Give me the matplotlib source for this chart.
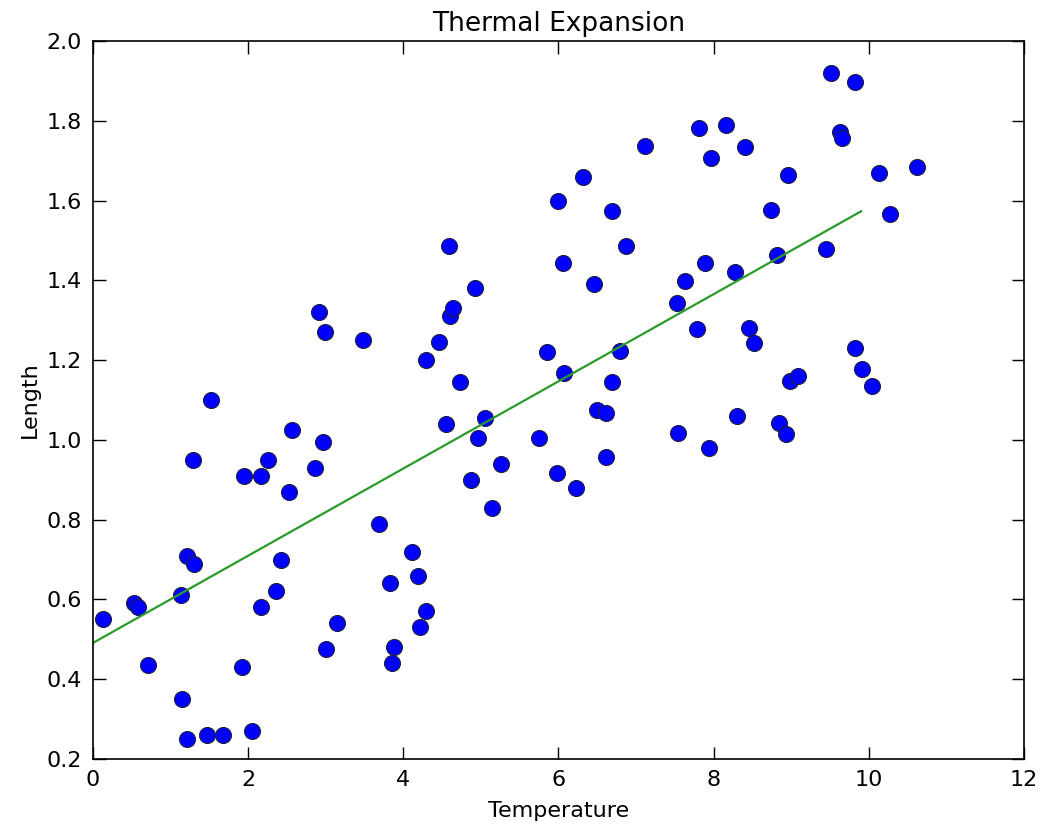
import matplotlib
matplotlib.use('AGG')
import matplotlib.pyplot as plt
import numpy as np

# temperature / length readings
temperature = [0.13, 0.53, 0.58, 0.71, 1.13, 1.15, 1.21, 1.21, 1.30, 1.29,
               1.47, 1.52, 1.68, 1.92, 1.95, 2.05, 2.17, 2.17, 2.26, 2.36,
               2.42, 2.53, 2.57, 2.86, 2.91, 2.96, 2.99, 3.00, 3.15, 3.48,
               3.69, 3.83, 3.86, 3.88, 4.11, 4.19, 4.21, 4.29, 4.29, 4.46,
               4.55, 4.59, 4.60, 4.64, 4.73, 4.87, 4.92, 4.96, 5.05, 5.14,
               5.26, 5.75, 5.85, 5.98, 5.99, 6.06, 6.07, 6.23, 6.32, 6.46,
               6.50, 6.61, 6.61, 6.69, 6.69, 6.79, 6.87, 7.12, 7.53, 7.54,
               7.63, 7.79, 7.81, 7.89, 7.94, 7.97, 8.16, 8.28, 8.30, 8.40,
               8.46, 8.52, 8.74, 8.82, 8.84, 8.93, 8.96, 8.98, 9.09, 9.45,
               9.51, 9.63, 9.65, 9.82, 9.82, 9.91, 10.04, 10.13, 10.27, 10.62]
length = [0.55, 0.59, 0.58, 0.436, 0.61, 0.35, 0.25, 0.71, 0.69, 0.95,
          0.26, 1.10, 0.26, 0.43, 0.91, 0.27, 0.58, 0.91, 0.95, 0.62,
          0.70, 0.87, 1.025, 0.93, 1.32, 0.995, 1.27, 0.476, 0.54, 1.25,
          0.79, 0.64, 0.44, 0.48, 0.72, 0.66, 0.53, 0.57, 1.20, 1.246,
          1.04, 1.486, 1.31, 1.33, 1.145, 0.90, 1.38, 1.005, 1.055, 0.83,
          0.94, 1.005, 1.22, 0.917, 1.60, 1.444, 1.168, 0.88, 1.66, 1.39,
          1.075, 1.068, 0.957, 1.145, 1.574, 1.223, 1.486, 1.737, 1.343, 1.017,
          1.398, 1.278, 1.782, 1.444, 0.98, 1.707, 1.79, 1.42, 1.06, 1.734,
          1.28, 1.243, 1.576, 1.464, 1.043, 1.015, 1.664, 1.148, 1.16, 1.479,
          1.92, 1.772, 1.757, 1.897, 1.23, 1.178, 1.135, 1.67, 1.566, 1.684]

# fitted line
fit_intercept = 0.491
fit_slope = 0.1093
fit_range = [0.0, 9.9]

plt.rcParams['font.family'] = ['DejaVu Sans']
fig = plt.figure(figsize=(10.41, 8.25), dpi=100)
ax = fig.add_axes([0.0893, 0.08, 0.8944, 0.8703])

ax.plot(temperature, length, 'o', color='blue', markersize=11.5,
        markeredgecolor='#202040', markeredgewidth=0.8)
fx = np.array(fit_range)
ax.plot(fx, fit_intercept + fit_slope * fx, color='#2a9a2a', linewidth=1.6)

ax.set_xlim(0, 12)
ax.set_ylim(0.2, 2.0)
ax.set_xticks(np.arange(0, 13, 2))
ax.set_yticks(np.arange(0.2, 2.01, 0.2))
ax.set_yticklabels(['%.1f' % v for v in np.arange(0.2, 2.01, 0.2)])
ax.tick_params(direction='in', length=9, width=1, top=True, right=True,
               labelsize=16, pad=8)
for s in ax.spines.values():
    s.set_linewidth(1.2)

ax.set_title('Thermal Expansion', fontsize=19, pad=7)
ax.set_xlabel('Temperature', fontsize=16, labelpad=8)
ax.set_ylabel('Length', fontsize=16, labelpad=5)

fig.savefig('out.png', dpi=100)
